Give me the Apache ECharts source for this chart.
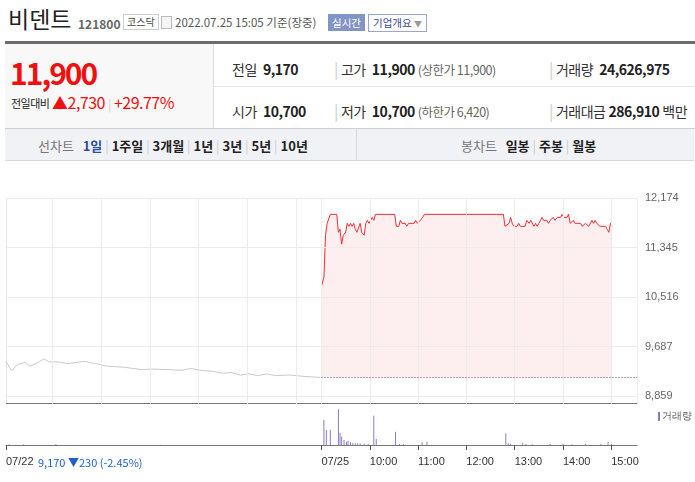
<!DOCTYPE html>
<html><head><meta charset="utf-8">
<script src="https://cdn.jsdelivr.net/npm/echarts@6/dist/echarts.min.js"></script>
<style>
body{margin:0;width:695px;height:482px;background:#fff;font-family:"Noto Sans CJK KR","Noto Sans",sans-serif;position:relative;overflow:hidden}
.a{position:absolute;white-space:nowrap}
.t{letter-spacing:-0.5px}
.red{color:#f01010}
.lbl{color:#333;font-size:14px}
.val{font-weight:bold;font-size:14px;color:#222}
.sm{color:#666;font-size:12.5px}
.tab{font-size:13px;color:#222;font-weight:bold}
.sep{color:#ccc}
</style></head><body>
<div class="a" style="left:8px;top:1px;font-size:23px;color:#222">비덴트</div>
<div class="a" style="left:78px;top:15px;font-size:12px;font-weight:bold;color:#666">121800</div>
<div class="a" style="left:123px;top:14px;font-size:10px;color:#444;border:1px solid #ccc;padding:0 3px;line-height:14px">코스닥</div>
<div class="a" style="left:161px;top:16px;width:9px;height:11px;border:1px solid #bbb;background:#f4f4f4"></div>
<div class="a" style="left:175px;top:14px;font-size:11.5px;color:#555">2022.07.25 15:05 기준(장중)</div>
<div class="a" style="left:328px;top:14px;font-size:10.5px;color:#fff;background:#8395c5;padding:0 4px;line-height:17px">실시간</div>
<div class="a" style="left:368px;top:14px;font-size:10.5px;color:#3a4a90;border:1px solid #9aa6d0;padding:0 4px;line-height:15px">기업개요 <span style="color:#999;font-size:8px">▼</span></div>
<div class="a" style="left:5px;top:41px;width:690px;height:3px;background:#6c6c6c"></div>
<div class="a" style="left:5px;top:44px;width:208px;height:84px;background:#f8f8f9;border-right:1px solid #ddd"></div>
<div class="a" style="left:5px;top:128px;width:690px;height:1px;background:#cfcfcf"></div>
<div class="a" style="left:214px;top:86px;width:481px;height:1px;background:#e6e6e6"></div>
<div class="a red" style="left:10px;top:50px;font-size:30px;font-weight:bold;letter-spacing:-2px">11,900</div>
<div class="a" style="left:11px;top:95px;font-size:11px;color:#222;letter-spacing:-0.5px">전일대비</div>
<div class="a red" style="left:52px;top:90px;font-size:16px;letter-spacing:-0.5px">▲2,730 <span class="sep" style="font-size:12px">|</span> +29.77%</div>
<div class="a t" style="left:232px;top:56px"><span class="lbl">전일</span>&nbsp; <span class="val">9,170</span></div>
<div class="a t" style="left:334px;top:56px"><span class="sep">|</span> <span class="lbl">고가</span>&nbsp; <span class="val red">11,900</span> <span class="sm">(상한가 11,900)</span></div>
<div class="a t" style="left:549px;top:56px"><span class="sep">|</span> <span class="lbl">거래량</span>&nbsp; <span class="val">24,626,975</span></div>
<div class="a t" style="left:232px;top:98px"><span class="lbl">시가</span>&nbsp; <span class="val red">10,700</span></div>
<div class="a t" style="left:334px;top:98px"><span class="sep">|</span> <span class="lbl">저가</span>&nbsp; <span class="val red">10,700</span> <span class="sm">(하한가 6,420)</span></div>
<div class="a t" style="left:549px;top:98px"><span class="sep">|</span> <span class="lbl">거래대금</span> <span class="val">286,910</span> <span class="lbl">백만</span></div>
<div class="a" style="left:5px;top:129px;width:689px;height:31px;background:#f1f2f6;border-bottom:1px solid #d8d8d8"></div>
<div class="a" style="left:356px;top:129px;width:1px;height:31px;background:#d8d8d8"></div>
<div class="a" style="left:38px;top:136px;font-size:13px"><span style="color:#777">선차트</span>&nbsp;&nbsp; <span class="tab" style="color:#2a4fa8">1일</span> <span class="sep">|</span> <span class="tab">1주일</span> <span class="sep">|</span> <span class="tab">3개월</span> <span class="sep">|</span> <span class="tab">1년</span> <span class="sep">|</span> <span class="tab">3년</span> <span class="sep">|</span> <span class="tab">5년</span> <span class="sep">|</span> <span class="tab">10년</span></div>
<div class="a" style="left:461px;top:136px;font-size:13px"><span style="color:#777">봉차트</span>&nbsp;&nbsp; <span class="tab">일봉</span> <span class="sep">|</span> <span class="tab">주봉</span> <span class="sep">|</span> <span class="tab">월봉</span></div>
<div id="c" class="a" style="left:0;top:160px;width:695px;height:322px"></div>
<div class="a" style="left:38px;top:454px;font-size:11px;color:#1e5fd0">9,170 ▼230 (-2.45%)</div>
<script>
const prevMin=[-392,-385,-377,-368,-363,-357,-352,-345,-338,-327,-316,-305,-294,-288,-277,-267,-256,-245,-234,-223,-212,-189,-173,-162,-151,-134,-123,-112,-101,-90,-79,-68,-57,-40,-24,-2];
const prevPrice=[9440,9280,9390,9420,9360,9390,9420,9480,9430,9430,9400,9420,9440,9420,9390,9360,9350,9340,9320,9300,9310,9300,9290,9320,9290,9270,9240,9250,9210,9230,9200,9230,9200,9210,9190,9170];
const todayMin=[0,3,5,7,9,11,19,21,23,25,27,30,32,34,36,38,40,42,44,46,48,50,53,55,57,59,61,63,65,67,91,93,96,98,100,104,106,108,115,117,119,121,123,125,128,226,228,233,235,237,239,243,245,247,253,255,258,260,262,264,266,268,270,274,276,280,282,284,288,290,293,297,299,301,303,305,307,309,311,313,315,322,324,326,328,330,332,334,336,338,340,342,344,346,353,355,357,359,361];
const todayPrice=[10700,10850,11550,11750,11750,11900,11900,11600,11650,11400,11550,11600,11750,11700,11750,11700,11750,11650,11600,11600,11750,11600,11550,11750,11800,11750,11800,11850,11800,11900,11900,11700,11700,11800,11750,11750,11700,11750,11750,11800,11750,11750,11800,11800,11900,11900,11700,11750,11850,11750,11700,11700,11750,11700,11700,11800,11750,11800,11800,11700,11750,11700,11750,11850,11800,11800,11750,11800,11850,11800,11850,11850,11900,11850,11850,11850,11900,11750,11750,11800,11750,11750,11700,11700,11750,11750,11700,11700,11800,11750,11800,11750,11750,11700,11700,11650,11600,11750,11700];
const volMin=[-388,-370,-330,-200,3,6,11,21,23,25,28,31,33,36,39,42,45,48,53,58,65,68,92,97,102,125,131,229,232,235,250,254,262,284,300,311,328,347,356,360];
const volume=[2,2,3,1,75,45,45,107,37,25,15,10,13,8,6,5,5,5,4,4,88,18,40,3,3,8,10,35,5,4,5,3,2,3,4,2,4,3,10,4];
const priceTicks=[8859,9687,10516,11345,12174];
const prevClose=9170;
const xTickVals=[-392,0,60,120,180,240,300,360];
const xTickLabels=['07/22','07/25','10:00','11:00','12:00','13:00','14:00','15:00'];
const prevGrid=[-335,-274,-213,-153,-92,-31];

const ch=echarts.init(document.getElementById('c'));
const zip=(a,b)=>a.map((v,i)=>[v,b[i]]);
const vlines=[...prevGrid,0,60,120,180,240,300,360].map(v=>({xAxis:v}));
ch.setOption({
 animation:false,
 grid:[{left:6,width:631,top:38,height:206},{left:6,width:631,top:245,height:40}],
 xAxis:[
  {gridIndex:0,type:'value',min:-392,max:392,axisLine:{show:false},axisTick:{show:false},axisLabel:{show:false},splitLine:{show:false}},
  {gridIndex:1,type:'value',min:-392,max:392,axisLine:{lineStyle:{color:'#777'}},
   axisTick:{customValues:xTickVals,length:5,lineStyle:{color:'#555'}},
   axisLabel:{customValues:xTickVals,align:'left',margin:11,fontSize:11,color:'#333',
     formatter:v=>xTickLabels[xTickVals.indexOf(v)]},splitLine:{show:false}}
 ],
 yAxis:[
  {gridIndex:0,type:'value',min:8725,max:12174,position:'right',
   axisLine:{show:true,onZero:false,lineStyle:{color:'#eee'}},axisTick:{show:false},
   axisLabel:{customValues:priceTicks,margin:8,fontSize:11,color:'#666',formatter:v=>v.toLocaleString('en-US')},
   splitLine:{show:false}},
  {gridIndex:1,type:'value',min:0,max:120,show:false}
 ],
 graphic:[
  {type:'rect',shape:{x:6,y:38,width:0.5,height:206},style:{fill:'#ccc'}},
  {type:'rect',shape:{x:6,y:243,width:631,height:1},style:{fill:'#777'}},
  {type:'rect',shape:{x:658,y:252,width:2,height:9},style:{fill:'#8a76c4'}},
  {type:'text',left:662,top:251,style:{text:'거래량',fontSize:10,fill:'#555',font:'10px "Noto Sans CJK KR"'}}
 ],
 series:[
  {type:'line',xAxisIndex:0,yAxisIndex:0,data:[],silent:true,
   markLine:{symbol:'none',silent:true,label:{show:false},lineStyle:{color:'#ececec',type:'solid',width:1},
     data:[...vlines,...priceTicks.map(v=>({yAxis:v}))]}},
  {type:'line',xAxisIndex:0,yAxisIndex:0,data:zip(prevMin,prevPrice),showSymbol:false,lineStyle:{color:'#c9c9c9',width:1}},
  {type:'line',xAxisIndex:0,yAxisIndex:0,data:zip(todayMin,todayPrice),showSymbol:false,
   lineStyle:{color:'#f22a32',width:1},areaStyle:{color:'rgba(248,200,206,0.45)',origin:prevClose},
   markLine:{symbol:'none',silent:true,label:{show:false},lineStyle:{color:'#555',type:[1,2],width:1},
     data:[[{coord:[0,prevClose]},{coord:[392,prevClose]}]]}},
  {type:'bar',xAxisIndex:1,yAxisIndex:1,data:zip(volMin,volume),barWidth:1,itemStyle:{color:'#8e7ac6'}}
 ]
});
</script></body></html>
